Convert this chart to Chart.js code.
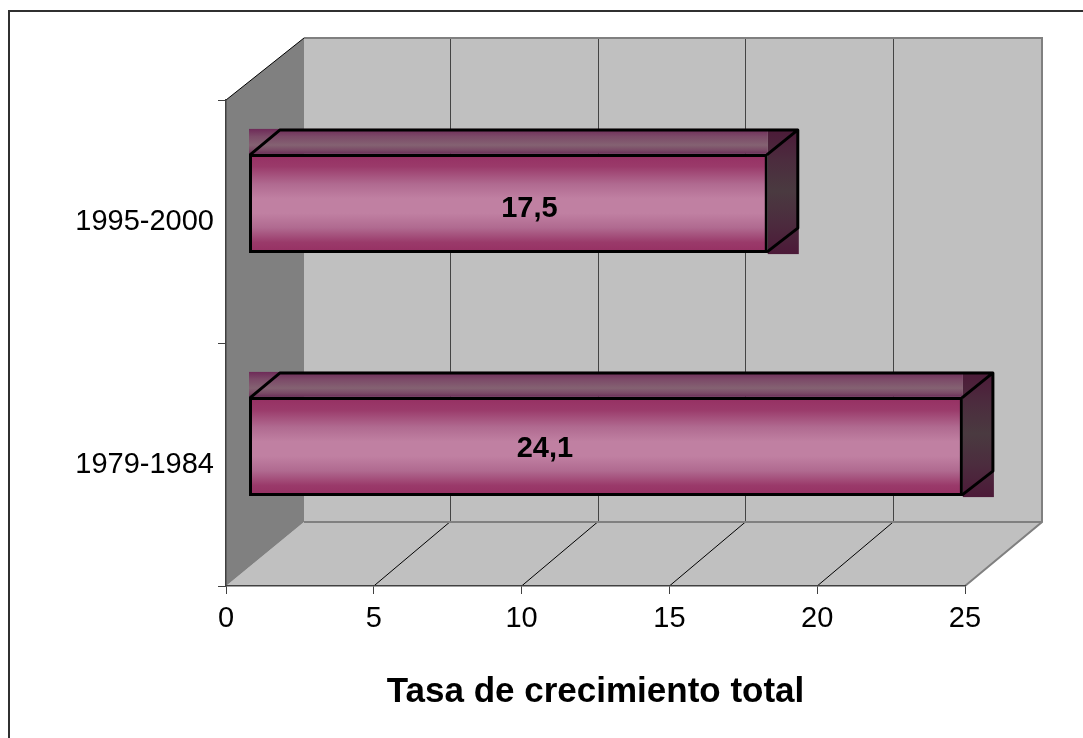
<!DOCTYPE html>
<html>
<head>
<meta charset="utf-8">
<title>Tasa de crecimiento total</title>
<script src="https://cdn.jsdelivr.net/npm/chart.js@4/dist/chart.umd.min.js"></script>
<style>
    html, body { margin: 0; padding: 0; background: #fff; }
    canvas { display: block; }
</style>
</head>
<body>
<canvas id="growthChart" width="1083" height="738"></canvas>
<script>
const categories = ['1995-2000', '1979-1984'];
const growthValues = [17.5, 24.1];
const axisTitle = 'Tasa de crecimiento total';

const FONT = '"Liberation Sans", Arial, sans-serif';
// 3D look: how far the walls and the bars are pushed back
const WALL_DX = 78, WALL_TOP_DY = -62, WALL_DY = -64;
const BAR_SHIFT_X = 23.5, BAR_SHIFT_Y = -18;
const BAR_DX = 31, BAR_DY = -25;
// the original labels are not centred on their bars
const LABEL_SHIFT_X = [21, -61];
const LABEL_SHIFT_Y = [5, 2];

function verticalGradient(ctx, top, bottom, stops) {
    const g = ctx.createLinearGradient(0, top, 0, bottom);
    stops.forEach(s => g.addColorStop(s[0], s[1]));
    return g;
}

function frontColor(context) {
    const chart = context.chart;
    if (context.dataIndex === undefined || !chart.scales.y) return '#a85080';
    const half = chart.scales.y.getPixelForValue(1) - chart.scales.y.getPixelForValue(0);
    const c = chart.scales.y.getPixelForValue(context.dataIndex);
    if (!isFinite(half) || !isFinite(c)) return '#a85080';
    return verticalGradient(chart.ctx, c - half * 0.2, c + half * 0.2, [
        [0, '#963063'], [0.12, '#9a3a6a'], [0.3, '#b06a90'], [0.45, '#c080a2'],
        [0.6, '#c080a2'], [0.75, '#b06a90'], [0.9, '#9a3a6a'], [1, '#963063']
    ]);
}

const walls3d = {
    id: 'walls3d',
    beforeDraw(chart) {
        const ctx = chart.ctx, x = chart.scales.x, y = chart.scales.y;
        const x0 = x.getPixelForValue(0), x1 = x.getPixelForValue(25);
        const top = y.top, bottom = y.bottom;

        ctx.save();
        ctx.fillStyle = '#fff';
        ctx.fillRect(0, 0, chart.width, chart.height);
        // only the top and left of the outer frame show in the picture
        ctx.strokeStyle = '#303030';
        ctx.lineWidth = 2;
        ctx.beginPath();
        ctx.moveTo(9, chart.height);
        ctx.lineTo(9, 11);
        ctx.lineTo(chart.width, 11);
        ctx.stroke();

        // back wall
        ctx.fillStyle = '#c0c0c0';
        ctx.fillRect(x0 + WALL_DX, top + WALL_TOP_DY, x1 - x0, bottom - top + WALL_DY - WALL_TOP_DY);
        // floor
        ctx.beginPath();
        ctx.moveTo(x0, bottom);
        ctx.lineTo(x1, bottom);
        ctx.lineTo(x1 + WALL_DX, bottom + WALL_DY);
        ctx.lineTo(x0 + WALL_DX, bottom + WALL_DY);
        ctx.closePath();
        ctx.fill();
        // side wall
        ctx.fillStyle = '#808080';
        ctx.beginPath();
        ctx.moveTo(x0, top);
        ctx.lineTo(x0 + WALL_DX, top + WALL_TOP_DY);
        ctx.lineTo(x0 + WALL_DX, bottom + WALL_DY);
        ctx.lineTo(x0, bottom);
        ctx.closePath();
        ctx.fill();

        // grid on the wall and on the floor
        x.ticks.forEach(t => {
            const px = x.getPixelForValue(t.value);
            if (t.value > 0 && t.value < 25) {
                ctx.strokeStyle = '#444';
                ctx.lineWidth = 1;
                ctx.beginPath();
                ctx.moveTo(Math.round(px + WALL_DX) - 1.5, top + WALL_TOP_DY);
                ctx.lineTo(Math.round(px + WALL_DX) - 1.5, bottom + WALL_DY);
                ctx.stroke();
                ctx.strokeStyle = '#000';
                ctx.beginPath();
                ctx.moveTo(px, bottom);
                ctx.lineTo(px + WALL_DX - 2, bottom + WALL_DY);
                ctx.stroke();
            }
        });

        // wall outline
        ctx.strokeStyle = '#808080';
        ctx.lineWidth = 2;
        ctx.beginPath();
        ctx.moveTo(x0 + WALL_DX, top + WALL_TOP_DY);
        ctx.lineTo(x1 + WALL_DX - 1, top + WALL_TOP_DY);
        ctx.lineTo(x1 + WALL_DX - 1, bottom + WALL_DY);
        ctx.lineTo(x1, bottom);
        ctx.moveTo(x1 + WALL_DX - 1, bottom + WALL_DY);
        ctx.lineTo(x0 + WALL_DX, bottom + WALL_DY);
        ctx.stroke();
        ctx.strokeStyle = '#000';
        ctx.lineWidth = 1;
        ctx.beginPath();
        ctx.moveTo(x0, top);
        ctx.lineTo(x0 + WALL_DX, top + WALL_TOP_DY);
        ctx.stroke();
        ctx.restore();
    },
    beforeDatasetsDraw(chart) {
        const ctx = chart.ctx;
        ctx.save();
        ctx.translate(BAR_SHIFT_X, BAR_SHIFT_Y);
        chart.getDatasetMeta(0).data.forEach(el => {
            const left = el.base - 1, right = el.x + 1;
            const top = el.y - el.height / 2 - 1, bottom = el.y + el.height / 2 + 1;

            // top face, painted as a plain rectangle like the original
            ctx.fillStyle = verticalGradient(ctx, top + BAR_DY, top, [
                [0, '#6e2a58'], [0.3, '#7c4a68'], [0.65, '#846272'], [0.85, '#7a4a66'], [1, '#6a2f58']
            ]);
            ctx.fillRect(left, top + BAR_DY, right - left, -BAR_DY);

            // end face, same thing
            ctx.fillStyle = verticalGradient(ctx, top + BAR_DY, bottom, [
                [0, '#4c1a38'], [0.25, '#4c2c3e'], [0.5, '#4a3a40'], [0.75, '#4c2c3e'], [1, '#4c1a38']
            ]);
            ctx.fillRect(right, top + BAR_DY, BAR_DX, bottom - top - BAR_DY + 1);

            ctx.strokeStyle = '#000';
            ctx.lineWidth = 3;
            ctx.lineJoin = 'round';
            ctx.beginPath();
            ctx.moveTo(left + 1, top + 1);
            ctx.lineTo(left + BAR_DX, top + BAR_DY + 1);
            ctx.lineTo(right + BAR_DX - 1, top + BAR_DY + 1);
            ctx.lineTo(right + BAR_DX - 1, bottom + BAR_DY);
            ctx.lineTo(right - 1, bottom - 1);
            ctx.moveTo(right - 1, top + 1);
            ctx.lineTo(right + BAR_DX - 1, top + BAR_DY + 1);
            ctx.stroke();
        });
    },
    afterDatasetsDraw(chart) {
        const ctx = chart.ctx;
        ctx.fillStyle = '#000';
        ctx.font = 'bold 29px ' + FONT;
        ctx.textAlign = 'center';
        ctx.textBaseline = 'middle';
        chart.getDatasetMeta(0).data.forEach((el, i) => {
            const label = String(growthValues[i]).replace('.', ',');
            ctx.fillText(label, (el.base + el.x) / 2 + LABEL_SHIFT_X[i], el.y + LABEL_SHIFT_Y[i]);
        });
        ctx.restore();
    }
};

new Chart(document.getElementById('growthChart'), {
    type: 'bar',
    data: {
        labels: categories,
        datasets: [{
            data: growthValues,
            backgroundColor: frontColor,
            borderColor: '#000',
            borderWidth: 3,
            borderSkipped: false,
            inflateAmount: 1,
            barPercentage: 0.4,
            categoryPercentage: 1,
            clip: false
        }]
    },
    options: {
        indexAxis: 'y',
        responsive: false,
        animation: false,
        layout: { padding: { left: 0, top: 100, right: 118, bottom: 0 } },
        plugins: { legend: { display: false }, tooltip: { enabled: false } },
        scales: {
            x: {
                min: 0,
                max: 25,
                afterFit: s => { s.height = 152; },
                ticks: { stepSize: 5, maxRotation: 0, color: '#000', padding: 8, font: { family: FONT, size: 29 } },
                grid: { drawOnChartArea: false, tickLength: 8, color: '#404040' },
                border: { color: '#404040', width: 1.5 },
                title: {
                    display: true,
                    text: axisTitle,
                    color: '#000',
                    font: { family: FONT, size: 35, weight: 'bold' },
                    padding: { top: 0, bottom: 25 }
                }
            },
            y: {
                afterFit: s => { s.width = 226; },
                ticks: { color: '#000', padding: 4, font: { family: FONT, size: 29 } },
                grid: { drawOnChartArea: false, tickLength: 8, color: '#404040' },
                border: { color: '#404040', width: 1.5 }
            }
        }
    },
    plugins: [walls3d]
});
</script>
</body>
</html>
